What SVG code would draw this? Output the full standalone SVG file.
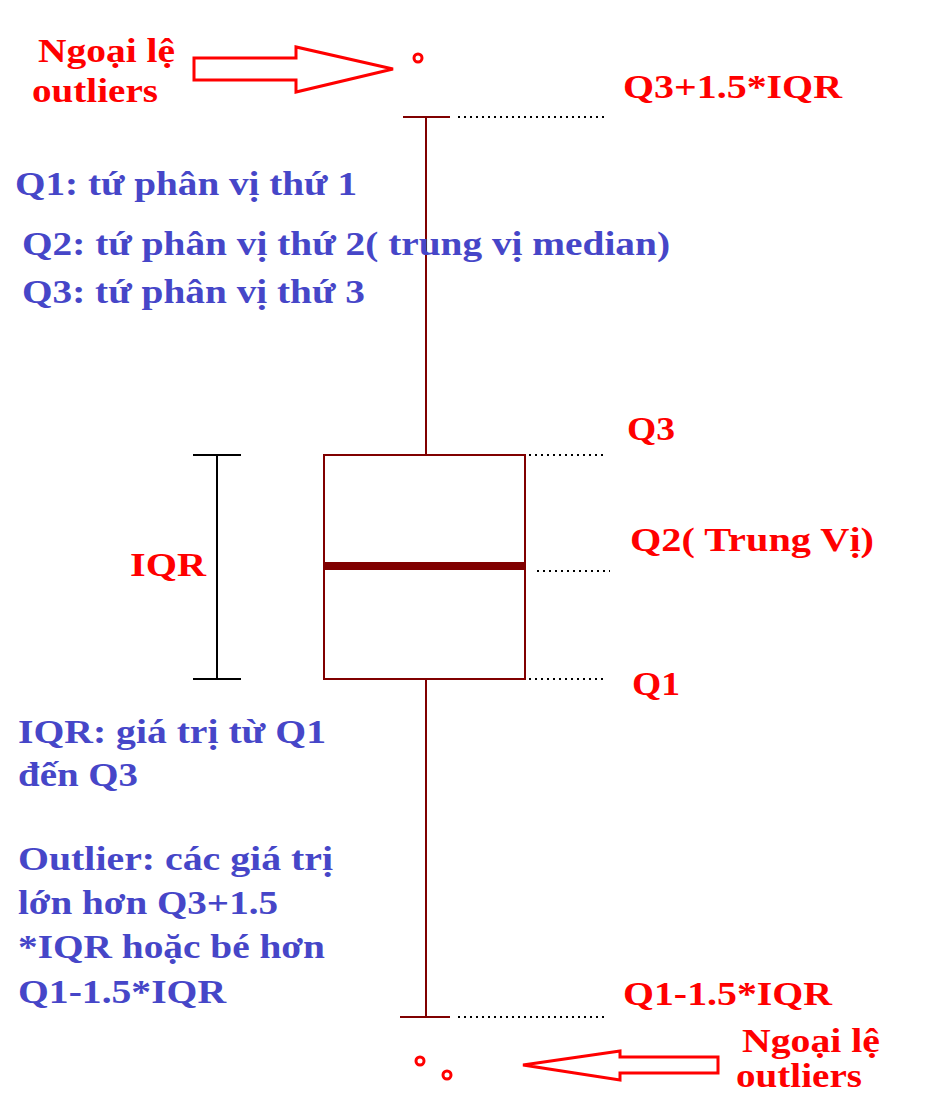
<svg xmlns="http://www.w3.org/2000/svg" width="951" height="1117" viewBox="0 0 951 1117">
<style>
text{font-family:"Liberation Serif",serif;font-weight:bold;font-size:33px}
.r{fill:#ff0000}.b{fill:#4646c8}
.w{stroke:#800000;stroke-width:2;fill:none}
.d{stroke:#000;stroke-width:2;stroke-dasharray:2 4;fill:none}
.o{stroke:#ff0000;stroke-width:3;fill:none}
</style>
<rect width="951" height="1117" fill="#fff"/>
<g id="box">
<line class="w" x1="426" y1="117" x2="426" y2="455"/>
<line class="w" x1="403" y1="117" x2="450" y2="117"/>
<rect class="w" x="324" y="455" width="201" height="224"/>
<line x1="324" y1="566" x2="525" y2="566" stroke="#800000" stroke-width="8"/>
<line class="w" x1="426" y1="679" x2="426" y2="1017"/>
<line class="w" x1="400" y1="1017" x2="450" y2="1017"/>
</g>
<g id="iqr-bracket" stroke="#000" stroke-width="2">
<line x1="217" y1="455" x2="217" y2="679"/>
<line x1="193" y1="455" x2="241" y2="455"/>
<line x1="193" y1="679" x2="241" y2="679"/>
</g>
<g id="connectors">
<line class="d" x1="458" y1="117" x2="605" y2="117"/>
<line class="d" x1="529" y1="455" x2="605" y2="455"/>
<line class="d" x1="537" y1="571" x2="610" y2="571"/>
<line class="d" x1="529" y1="679" x2="605" y2="679"/>
<line class="d" x1="458" y1="1017" x2="605" y2="1017"/>
<polygon class="o" stroke-width="5" points="194,58 296,58 296,47 393,69 296,92 296,80 194,80"/>
<polygon class="o" stroke-width="5" points="718,1057 620,1057 620,1051 523,1065 620,1080 620,1073 718,1073"/>
</g>
<g id="outliers">
<circle class="o" cx="418" cy="58" r="4"/>
<circle class="o" cx="420" cy="1061" r="4"/>
<circle class="o" cx="447" cy="1075" r="4"/>
</g>
<g id="labels" lengthAdjust="spacingAndGlyphs">
<text class="r" x="38" y="62" textLength="137" lengthAdjust="spacingAndGlyphs">Ngoại lệ</text>
<text class="r" x="32" y="102" textLength="126" lengthAdjust="spacingAndGlyphs">outliers</text>
<text class="r" x="623" y="98" textLength="219" lengthAdjust="spacingAndGlyphs">Q3+1.5*IQR</text>
<text class="b" x="15" y="195" textLength="342" lengthAdjust="spacingAndGlyphs">Q1: tứ phân vị thứ 1</text>
<text class="b" x="22" y="255" textLength="648" lengthAdjust="spacingAndGlyphs">Q2: tứ phân vị thứ 2( trung vị median)</text>
<text class="b" x="22" y="303" textLength="343" lengthAdjust="spacingAndGlyphs">Q3: tứ phân vị thứ 3</text>
<text class="r" x="627" y="440" textLength="48" lengthAdjust="spacingAndGlyphs">Q3</text>
<text class="r" x="630" y="551" textLength="244" lengthAdjust="spacingAndGlyphs">Q2( Trung Vị)</text>
<text class="r" x="130" y="576" textLength="76" lengthAdjust="spacingAndGlyphs">IQR</text>
<text class="r" x="632" y="695" textLength="48" lengthAdjust="spacingAndGlyphs">Q1</text>
<text class="b" x="18" y="743" textLength="308" lengthAdjust="spacingAndGlyphs">IQR: giá trị từ Q1</text>
<text class="b" x="18" y="786" textLength="120" lengthAdjust="spacingAndGlyphs">đến Q3</text>
<text class="b" x="18" y="870" textLength="315" lengthAdjust="spacingAndGlyphs">Outlier: các giá trị</text>
<text class="b" x="18" y="914" textLength="260" lengthAdjust="spacingAndGlyphs">lớn hơn Q3+1.5</text>
<text class="b" x="18" y="958" textLength="307" lengthAdjust="spacingAndGlyphs">*IQR hoặc bé hơn</text>
<text class="b" x="18" y="1003" textLength="208" lengthAdjust="spacingAndGlyphs">Q1-1.5*IQR</text>
<text class="r" x="623" y="1005" textLength="209" lengthAdjust="spacingAndGlyphs">Q1-1.5*IQR</text>
<text class="r" x="742" y="1052" textLength="138" lengthAdjust="spacingAndGlyphs">Ngoại lệ</text>
<text class="r" x="736" y="1087" textLength="126" lengthAdjust="spacingAndGlyphs">outliers</text>
</g>
</svg>
